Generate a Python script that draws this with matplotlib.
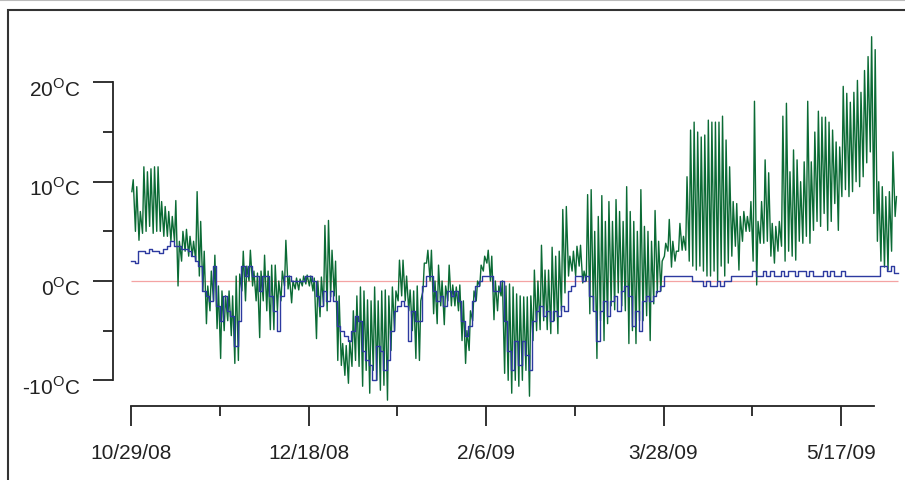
import numpy as np
import pandas as pd
import matplotlib
matplotlib.use("Agg")
import matplotlib.pyplot as plt
import matplotlib.transforms as mtransforms
from matplotlib.patches import Rectangle

plt.rcParams['font.family'] = ['Liberation Sans', 'DejaVu Sans']
plt.rcParams['mathtext.fontset'] = 'custom'
plt.rcParams['mathtext.rm'] = 'Liberation Sans'

start = pd.Timestamp('2008-10-29')

# daily max / min of air temperature (green), day 0 = 10/29/08
air_hi = [10.2, 9.5, 7, 11.5, 11, 11.3, 11.5, 11.5, 8, 7.5,
          7, 6.5, 8.1, 4, 5, 5.2, 4.5, 4, 9, 6,
          3, -0.5, 1, 2.6, -0.5, -1, -1.5, -1, -1.5, 0.5,
          0.7, 3, 1.5, 3.1, 1, 0.8, 1, 2.6, 1, 1.6,
          1.6, 0, 1, 4.1, 0.5, 0, 0.3, 0.2, 0.5, 0.6,
          0.5, 0.3, 0, 0.4, 5.6, 6.1, 3.1, 2, -1.5, -6.3,
          -6.5, -6, -3, -1.5, -0.6, -1, -1.9, -2, -0.6, -2,
          -1, -0.9, -1.5, -0.6, -1, 2.1, 2.1, 0.5, -0.9, -1,
          -0.5, -2, 1.8, 3.1, 3.1, 0, 1.6, 0, -0.5, 1.6,
          -0.4, -0.6, -0.4, -2, -5, -3, -1, 0, 1.6, 2.5,
          3.1, 2.5, 0, -0.5, 0, -0.5, -0.3, -0.6, -1.3, -1.5,
          -1.6, -1.6, -1.5, 1.1, 0, 3.6, 1.1, 1.1, 3.4, 2.5,
          3, 7.2, 7.5, 2.5, 3, 3.5, 3.6, 1, 8.7, 9.2,
          5, 6.5, 8.6, 6, 8, 6, 8.2, 7, 6, 9.5,
          7, 6, 5, 9.2, 5.5, 5, 4, 7.1, 4, 2,
          3.8, 6.2, 4, 3, 5.8, 4.5, 10.5, 15.2, 16, 15,
          14.5, 14.7, 16.2, 16, 16, 16, 16.6, 14.2, 11.5, 8,
          7.8, 6.5, 7, 6.5, 8, 18.1, 6, 8, 12.2, 10.9,
          5.8, 5.5, 6, 16.6, 17.9, 11, 13.2, 12.2, 10, 12,
          18.1, 12, 15, 17.1, 16.5, 16.5, 16, 15.2, 14, 13.5,
          19.6, 18.9, 18, 19, 20.2, 19, 21.2, 22.6, 24.6, 23.3,
          10, 9.5, 8.5, 9, 13, 8.5]
air_lo = [9, 5, 4.1, 4.8, 5, 5.5, 4.8, 5, 5, 4.5,
          4.5, 4, 4, -0.5, 2, 3, 2.5, 2.5, 2, 0.5,
          -1, -4.3, -3, -2, -4.8, -7.8, -5, -4, -5.5, -8.3,
          -8, -1, -2, 0, -0.5, -2, -5.7, -2, -3, -4.9,
          -4.9, -3, -2, -0.5, -0.8, -2.2, -0.8, -0.9, -0.5, -0.3,
          -0.5, -1, -5.8, -3.6, -2.5, -3, -1.6, -1.5, -8, -8.5,
          -9.5, -10.3, -8.6, -8, -8.6, -10.6, -9, -11.3, -9, -10,
          -11, -10.5, -12, -7, -5, -2, -1.5, -2, -3, -5,
          -7.8, -8, -1, 1.8, 0, -3.3, -4.3, -2.5, -4.4, -2,
          -2.5, -2.5, -3, -6, -8.3, -7, -4, -2, -0.5, 1,
          1.8, 0, -3.9, -3, -1.5, -9.3, -10, -11.3, -10, -10.6,
          -10, -9, -11.6, -6, -5, -4.9, -4, -4.9, -5.3, -4,
          -5.3, -3, -1.2, 0.5, 1, 0.5, 1.5, -0.2, 0, -3.3,
          -3, -7.8, -4, -6, -4.3, -2.5, -2.9, -1.2, -2.5, -3,
          -6.3, -5, -6.3, -4, -4, -3.5, -6, -2.3, -1.2, -1,
          2.5, 3, 1.4, 2, 3, 3.1, 3.1, 2, 1.5, 1.1,
          1.5, 1, 0.5, 0.5, 1, 0, 1.5, 0.5, 1.8, 2.5,
          3.5, 1.1, 4, 5, 5, 2, -0.4, 3.8, 3.8, 4,
          2.5, 1.8, 3, 3.5, 2, 3, 2.5, 2.1, 4, 3.8,
          4.5, 3.8, 5.1, 6, 5.5, 6.8, 5.1, 6, 7.8, 5.1,
          8.5, 9.2, 8.5, 9, 10, 9.5, 10.5, 11.9, 13, 6.8,
          4, 2, 1.4, 1.1, 3, 6.5]

# daily ground temperature (blue)
ground = [2, 1.8, 3, 3, 2.8, 3.2, 3, 3, 2.8, 3.2,
          3.5, 4, 3.5, 3.5, 3.2, 3.2, 3, 2.5, 2, 1.5,
          -1, -1.5, -2, 1.5, -2.5, -4, -1.5, -3, -3.5, -6.5,
          -4, 1.5, 0.5, 1.5, 0.5, 0.5, -1, 0.5, 0.5, -1.5,
          -3, -5, -1.5, 0.5, 0.5, 0, 0, 0, 0, 0.5,
          0.5, 0, -1.5, -2.5, -1, -2, -1, -2, -4.5, -5,
          -5.5, -6, -5, -3.5, -4, -7, -8, -8.5, -10, -6.5,
          -7, -9, -8, -5, -3, -2.5, -2, -2.5, -6, -3,
          -4, -4, -0.5, 0.5, 0.5, -1, -2, -1.5, -2.5, -1,
          -1.5, -1, -2, -4, -5.5, -4.5, -2, -0.5, 0, 0.5,
          0.5, 0.5, -1, -1, 0, -4, -7, -9, -6, -8.5,
          -6, -7.5, -9, -4, -3, -2.5, -3.5, -3, -4, -3,
          -3.5, -2.5, -3, -1, -0.5, 0.5, 0.5, 0, 0.5, -1.5,
          -3, -6, -3, -2, -3.5, -2, -1.5, -3, -1, -0.5,
          -1.5, -4.5, -3, -5, -2, -1.5, -2, -1.5, -1, -0.5,
          0.5, 0.5, 0.5, 0.5, 0.5, 0.5, 0.5, 0.5, 0, 0,
          0, -0.5, 0, -0.5, -0.5, 0, -0.5, 0, 0, 0.5,
          0.5, 0.5, 0.5, 0.5, 0.5, 1, 0.5, 0.5, 1, 0.5,
          1, 0.5, 0.5, 1, 0.5, 1, 1, 0.5, 1, 1,
          0.5, 1, 0.5, 0.5, 0.5, 1, 0.5, 1, 0.5, 0.5,
          1, 0.5, 0.5, 0.5, 0.5, 0.5, 0.5, 0.5, 0.5, 0.5,
          0.5, 1.5, 1.5, 1, 1.5, 0.8]

y_ticks = [-10, -5, 0, 5, 10, 15, 20]
y_labels = ['-10', '', '0', '', '10', '', '20']
x_tick_days = [0, 25, 50, 75, 100, 125, 150, 175, 200]

n = len(air_hi)
day = np.arange(n)
# min in the early morning, max in the afternoon
t_air = np.column_stack([day + 0.25, day + 0.625]).ravel()
v_air = np.column_stack([air_lo, air_hi]).ravel()

fig = plt.figure(figsize=(9.05, 4.8), dpi=100)
ax = fig.add_axes([113 / 905, 74 / 480, 792 / 905, 376 / 480])

ax.hlines(0, 0, n, color='#f4a3a3', lw=0.9, zorder=1)
ax.plot(t_air, v_air, color='#0b6b35', lw=1.0, zorder=2)
ax.step(np.append(day, n), np.append(ground, ground[-1]), where='post',
        color='#2d3aa0', lw=1.0, zorder=3)

ax.set_xlim((113 - 131) / 3.55, (905 - 131) / 3.55)
ax.set_ylim((281 - 406) / 9.93, (281 - 30) / 9.93)

for s in ['top', 'right']:
    ax.spines[s].set_visible(False)
for s in ['left', 'bottom']:
    ax.spines[s].set_color('#222222')
    ax.spines[s].set_linewidth(1.3)
ax.spines['left'].set_bounds(-10, 20)
ax.spines['bottom'].set_bounds(0, (874 - 131) / 3.55)

ax.set_yticks(y_ticks)
ax.set_yticklabels([(l + r'$^{\mathrm{O}}$C') if l else '' for l in y_labels], fontsize=15)
ax.set_xticks(x_tick_days)
ax.set_xticklabels([(start + pd.Timedelta(days=d)).strftime('%-m/%-d/%y') if i % 2 == 0 else ''
                    for i, d in enumerate(x_tick_days)], fontsize=15)
ax.tick_params(axis='both', color='#222222', width=1.3, labelcolor='#222222')
ax.tick_params(axis='y', length=14.4, pad=9)
ax.tick_params(axis='x', length=14.4, pad=13)
# short ticks for the unlabeled positions
for i, t in enumerate(ax.yaxis.get_major_ticks()):
    if y_labels[i] == '':
        t.tick1line.set_markersize(7.2)
    # digits sit just below the tick, as in the original
    t.label1.set_transform(t.label1.get_transform() +
                           mtransforms.ScaledTranslation(0, -0.05, fig.dpi_scale_trans))
for i, t in enumerate(ax.xaxis.get_major_ticks()):
    if i % 2 == 1:
        t.tick1line.set_markersize(7.2)

fig.add_artist(Rectangle((8 / 905, -0.2), 1.2, 1.2 - 10 / 480, transform=fig.transFigure,
                         fill=False, edgecolor='#333333', lw=1.5, clip_on=False))
fig.add_artist(plt.Line2D([0, 1], [0.999, 0.999], color='#bbbbbb', lw=0.8))

fig.savefig('out.png', dpi=100)
